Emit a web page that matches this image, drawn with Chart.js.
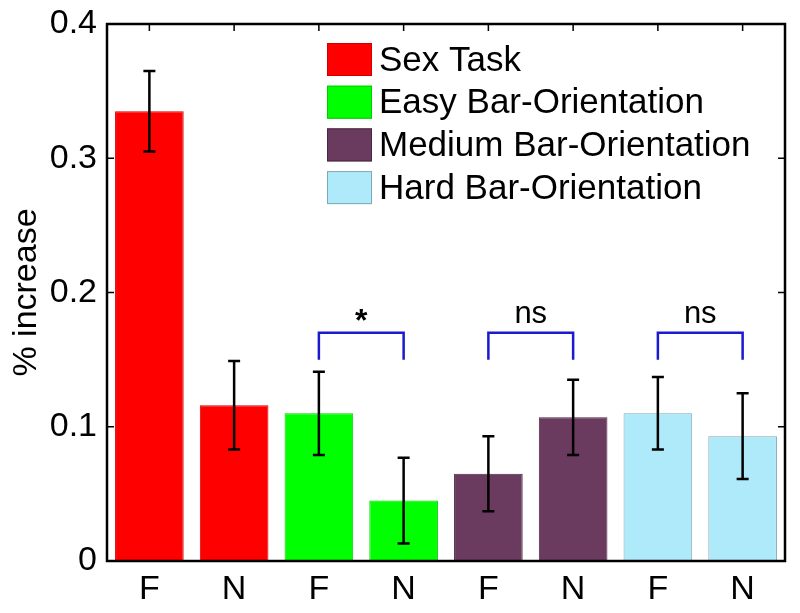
<!DOCTYPE html>
<html>
<head>
<meta charset="utf-8">
<script src="https://cdn.jsdelivr.net/npm/chart.js@4.4.1/dist/chart.umd.min.js"></script>
<style>
  html, body { margin: 0; padding: 0; background: #fff; }
  #wrap { width: 800px; height: 613px; }
</style>
</head>
<body>
<div id="wrap"><canvas id="myChart" width="800" height="613"></canvas></div>
<script>
// categorias y valores
var labels = ["F", "N", "F", "N", "F", "N", "F", "N"];
var taskNames = ["Sex Task", "Easy Bar-Orientation", "Medium Bar-Orientation", "Hard Bar-Orientation"];
var meanIncrease = [0.335, 0.116, 0.110, 0.045, 0.065, 0.107, 0.110, 0.093];
var errIncrease = [0.030, 0.033, 0.031, 0.032, 0.028, 0.028, 0.027, 0.032];
var yTicks = [0, 0.1, 0.2, 0.3, 0.4];
// comparaciones: indice izquierdo, derecho, etiqueta, altura
var cmpLeft = [2, 4, 6];
var cmpRight = [3, 5, 7];
var cmpText = ["*", "ns", "ns"];
var cmpTop = [0.17, 0.17, 0.17];
var cmpLeg = [0.15, 0.15, 0.15];

var fillColors = ["#ff0000", "#00ff00", "#6b3a5f", "#aeeafa"];
var edgeColors = ["#d00000", "#00cc00", "#4a2640", "#7fa9b5"];
var FONT = "'Liberation Sans', Arial, sans-serif";

var datasets = taskNames.map(function (name, t) {
  return {
    label: name,
    data: meanIncrease.map(function (v, i) {
      return Math.floor(i / 2) === t ? v : null;
    }),
    backgroundColor: fillColors[t],
    borderColor: edgeColors[t],
    borderWidth: 1,
    grouped: false,
    barPercentage: 0.81,
    categoryPercentage: 1.0
  };
});

// marco, ticks, barras de error, corchetes y leyenda
var extras = {
  id: "extras",
  afterDatasetsDraw: function (chart) {
    var ctx = chart.ctx;
    var a = chart.chartArea;
    var xs = chart.scales.x;
    var ys = chart.scales.y;
    ctx.save();

    // error bars
    ctx.strokeStyle = "#000";
    ctx.lineWidth = 2.5;
    meanIncrease.forEach(function (v, i) {
      var x = xs.getPixelForValue(i);
      var yt = ys.getPixelForValue(v + errIncrease[i]);
      var yb = ys.getPixelForValue(v - errIncrease[i]);
      ctx.beginPath();
      ctx.moveTo(x, yt); ctx.lineTo(x, yb);
      ctx.moveTo(x - 6, yt); ctx.lineTo(x + 6, yt);
      ctx.moveTo(x - 6, yb); ctx.lineTo(x + 6, yb);
      ctx.stroke();
    });

    // frame + inward ticks
    ctx.strokeStyle = "#000";
    ctx.lineWidth = 2.5;
    ctx.strokeRect(a.left, a.top, a.right - a.left, a.bottom - a.top);
    ctx.lineWidth = 1.5;
    ctx.beginPath();
    yTicks.forEach(function (t) {
      var y = ys.getPixelForValue(t);
      ctx.moveTo(a.left, y); ctx.lineTo(a.left + 7, y);
      ctx.moveTo(a.right, y); ctx.lineTo(a.right - 7, y);
    });
    labels.forEach(function (l, i) {
      var x = xs.getPixelForValue(i);
      ctx.moveTo(x, a.top); ctx.lineTo(x, a.top + 7);
    });
    ctx.stroke();

    // brackets
    ctx.strokeStyle = "#1a1ad0";
    ctx.lineWidth = 2.5;
    ctx.fillStyle = "#000";
    ctx.textAlign = "center";
    ctx.textBaseline = "alphabetic";
    cmpLeft.forEach(function (li, k) {
      var x1 = xs.getPixelForValue(li);
      var x2 = xs.getPixelForValue(cmpRight[k]);
      var yTop = ys.getPixelForValue(cmpTop[k]);
      var yLeg = ys.getPixelForValue(cmpLeg[k]);
      ctx.beginPath();
      ctx.moveTo(x1, yLeg); ctx.lineTo(x1, yTop); ctx.lineTo(x2, yTop); ctx.lineTo(x2, yLeg);
      ctx.stroke();
      if (cmpText[k] === "*") {
        ctx.font = "bold 32px " + FONT;
        ctx.fillText(cmpText[k], (x1 + x2) / 2, yTop - 2);
      } else {
        ctx.font = "31px " + FONT;
        ctx.fillText(cmpText[k], (x1 + x2) / 2, yTop - 10);
      }
    });

    // legend
    var bx = a.left + 220;
    var by = a.top + 19;
    var rowH = 42.7;
    ctx.font = "35px " + FONT;
    ctx.textAlign = "left";
    ctx.textBaseline = "middle";
    chart.data.datasets.forEach(function (ds, t) {
      var y = by + t * rowH;
      ctx.fillStyle = ds.backgroundColor;
      ctx.fillRect(bx, y, 45, 33);
      ctx.strokeStyle = ds.borderColor;
      ctx.lineWidth = 1;
      ctx.strokeRect(bx + 0.5, y + 0.5, 44, 32);
      ctx.fillStyle = "#000";
      ctx.fillText(ds.label, bx + 52, y + 18);
    });

    ctx.restore();
  }
};

const ctxIncrease = document.getElementById("myChart").getContext("2d");

const myChart = new Chart(ctxIncrease, {
  type: "bar",
  data: {
    labels: labels,
    datasets: datasets
  },
  options: {
    responsive: false,
    animation: false,
    layout: { padding: { top: 24, right: 15, left: 6, bottom: 0 } },
    plugins: {
      legend: { display: false },
      tooltip: { enabled: false }
    },
    scales: {
      x: {
        grid: { display: false },
        border: { display: false },
        ticks: {
          color: "#000",
          font: { family: FONT, size: 34 },
          padding: 0
        },
        afterFit: function (scale) { scale.height = 52; }
      },
      y: {
        min: 0,
        max: 0.4,
        afterBuildTicks: function (scale) {
          scale.ticks = yTicks.map(function (v) { return { value: v }; });
        },
        grid: { display: false },
        border: { display: false },
        ticks: {
          color: "#000",
          font: { family: FONT, size: 34 },
          padding: 2
        },
        title: {
          display: true,
          text: "% increase",
          color: "#000",
          font: { family: FONT, size: 34 },
          padding: 0
        },
        afterFit: function (scale) { scale.width = 101; }
      }
    }
  },
  plugins: [extras]
});
</script>
</body>
</html>
